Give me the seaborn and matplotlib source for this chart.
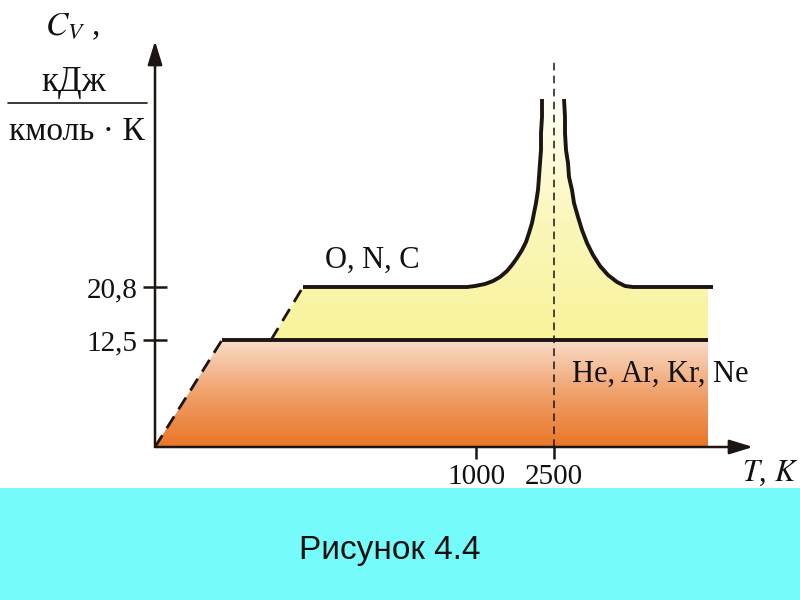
import numpy as np
import pandas as pd
import matplotlib
matplotlib.use("Agg")
import matplotlib.pyplot as plt
from matplotlib.colors import LinearSegmentedColormap
from matplotlib.patches import Rectangle
import seaborn as sns

# schematic coordinates: x = position along the T axis, y = height of Cv above the T axis
# monatomic gases (He, Ar, Kr, Ne)
he_dash_x = [0, 67]
he_dash_y = [0, 107]
he_x = [67, 553]
he_y = [107, 107]

# di/poly-atomic (O, N, C) - dashed start, plateau, resonance peak near 2500 K
onc_dash_x = [116, 148]
onc_dash_y = [107, 160]
onc_left_x = [148, 312, 320, 330, 338, 345, 352, 357, 362, 367, 371, 374,
              377, 379, 381, 383, 384, 385, 386, 386, 387, 387]
onc_left_y = [160, 160, 161, 163, 166, 170, 176, 182, 189, 197, 205, 214,
              224, 234, 244, 257, 270, 284, 297, 314, 330, 348]
onc_right_x = [409, 410, 410, 411, 413, 414, 417, 419, 423, 427, 432, 438,
               445, 453, 462, 470, 478, 558]
onc_right_y = [348, 330, 314, 297, 284, 270, 257, 244, 230, 217, 204, 192,
               181, 172, 165, 161, 160, 160]
fill_right = 553

peak_x = 399
peak_top = 389

xtick_pos = [321, 399]
xtick_labels = ["1000", "2500"]
ytick_pos = [107, 160]
ytick_labels = ["12,5", "20,8"]

sns.set_theme(style="white")
plt.rcParams["font.family"] = ["Liberation Serif", "DejaVu Serif"]
plt.rcParams["mathtext.fontset"] = "stix"

ink = "#1c1512"
fig = plt.figure(figsize=(8, 6), dpi=100)
fig.patch.set_facecolor("white")


def fp(x, y):
    # pixel position -> figure fraction
    return x / 800, 1 - y / 600


# cyan caption band
fig.add_artist(Rectangle((0, 0), 1, 112 / 600, transform=fig.transFigure,
                         facecolor="#76FBFB", edgecolor="none", zorder=0))
fig.text(*fp(390, 551), "Рисунок 4.4", ha="center", va="center", fontsize=24,
         family=["Liberation Sans", "DejaVu Sans"], color="#111111")

ax = fig.add_axes([155 / 800, (600 - 447) / 600, 600 / 800, 410 / 600])
ax.set_facecolor("none")
for s in ax.spines.values():
    s.set_visible(False)

# gradient fills clipped to the regions under the curves
orange = LinearSegmentedColormap.from_list("or", ["#E97626", "#F0A06A", "#F9DCC8"])
yellow = LinearSegmentedColormap.from_list("ye", ["#F9F39A", "#FBF7BC", "#FFFFF6"])
grad = np.linspace(0, 1, 256).reshape(-1, 1)

he_poly_x = he_dash_x + [fill_right, fill_right]
he_poly_y = he_dash_y + [107, 0]
p1 = ax.fill(he_poly_x, he_poly_y, facecolor="none", edgecolor="none")[0]
im1 = ax.imshow(grad, extent=[0, fill_right, 0, 107], origin="lower",
                cmap=orange, aspect="auto", zorder=1)
im1.set_clip_path(p1)

onc_poly_x = onc_dash_x[:1] + onc_left_x + onc_right_x[:-1] + [fill_right, fill_right]
onc_poly_y = onc_dash_y[:1] + onc_left_y + onc_right_y[:-1] + [160, 107]
p2 = ax.fill(onc_poly_x, onc_poly_y, facecolor="none", edgecolor="none")[0]
im2 = ax.imshow(grad, extent=[116, fill_right, 107, 348], origin="lower",
                cmap=yellow, aspect="auto", zorder=1)
im2.set_clip_path(p2)

# curves
curves = pd.concat([
    pd.DataFrame({"x": he_x, "y": he_y, "part": "he"}),
    pd.DataFrame({"x": onc_left_x, "y": onc_left_y, "part": "onc_l"}),
    pd.DataFrame({"x": onc_right_x, "y": onc_right_y, "part": "onc_r"}),
])
for part, d in curves.groupby("part"):
    sns.lineplot(data=d, x="x", y="y", ax=ax, color=ink, lw=2.8, sort=False,
                 estimator=None, zorder=3, solid_capstyle="butt",
                 solid_joinstyle="round", clip_on=False)

ax.plot(he_dash_x, he_dash_y, color=ink, lw=2, ls=(0, (5, 3)), zorder=3)
ax.plot(onc_dash_x, onc_dash_y, color=ink, lw=2, ls=(0, (5, 3)), zorder=3)
ax.plot([peak_x, peak_x], [0, peak_top], color=ink, lw=1.1, ls=(0, (5, 3.5)),
        zorder=3, clip_on=False)

# axes with arrows
arrow = dict(arrowstyle="-|>,head_length=0.65,head_width=0.2", lw=1.8,
             color=ink, mutation_scale=22, shrinkA=0, shrinkB=0)
ax.annotate("", xy=(598, 0), xytext=(0, 0), arrowprops=arrow,
            annotation_clip=False, zorder=5)
ax.annotate("", xy=(0, 406), xytext=(0, 0), arrowprops=arrow,
            annotation_clip=False, zorder=5)

ax.set_xlim(0, 600)
ax.set_ylim(0, 410)
ax.set_xticks(xtick_pos, xtick_labels)
ax.set_yticks(ytick_pos, ytick_labels)
ax.tick_params(axis="both", direction="inout", length=17, width=1.8,
               color=ink, labelsize=21, labelcolor="#111111", pad=4,
               bottom=True, left=True)
ax.set_xlabel("")
ax.set_ylabel("")

ax.text(217, 179, "O, N, C", fontsize=22, color="#111111", ha="center",
        va="baseline")
ax.text(417, 65, "He, Ar, Kr, Ne", fontsize=22, color="#111111", ha="left",
        va="baseline")

# axis titles
fig.text(*fp(770, 481), "$T$, $K$", fontsize=22, ha="center", va="baseline",
         color="#111111")
fig.text(*fp(72, 35), "$C_V$ ,", fontsize=24, ha="center", va="baseline",
         color="#111111")
fig.text(*fp(74, 91), "кДж", fontsize=25, ha="center", va="baseline",
         color="#111111")
fig.text(*fp(77, 140), "кмоль · К", fontsize=24, ha="center", va="baseline",
         color="#111111")
fig.add_artist(plt.Line2D([8 / 800, 147 / 800], [1 - 103 / 600] * 2,
                          transform=fig.transFigure, color=ink, lw=1.2))

fig.savefig("out.png", dpi=100)
